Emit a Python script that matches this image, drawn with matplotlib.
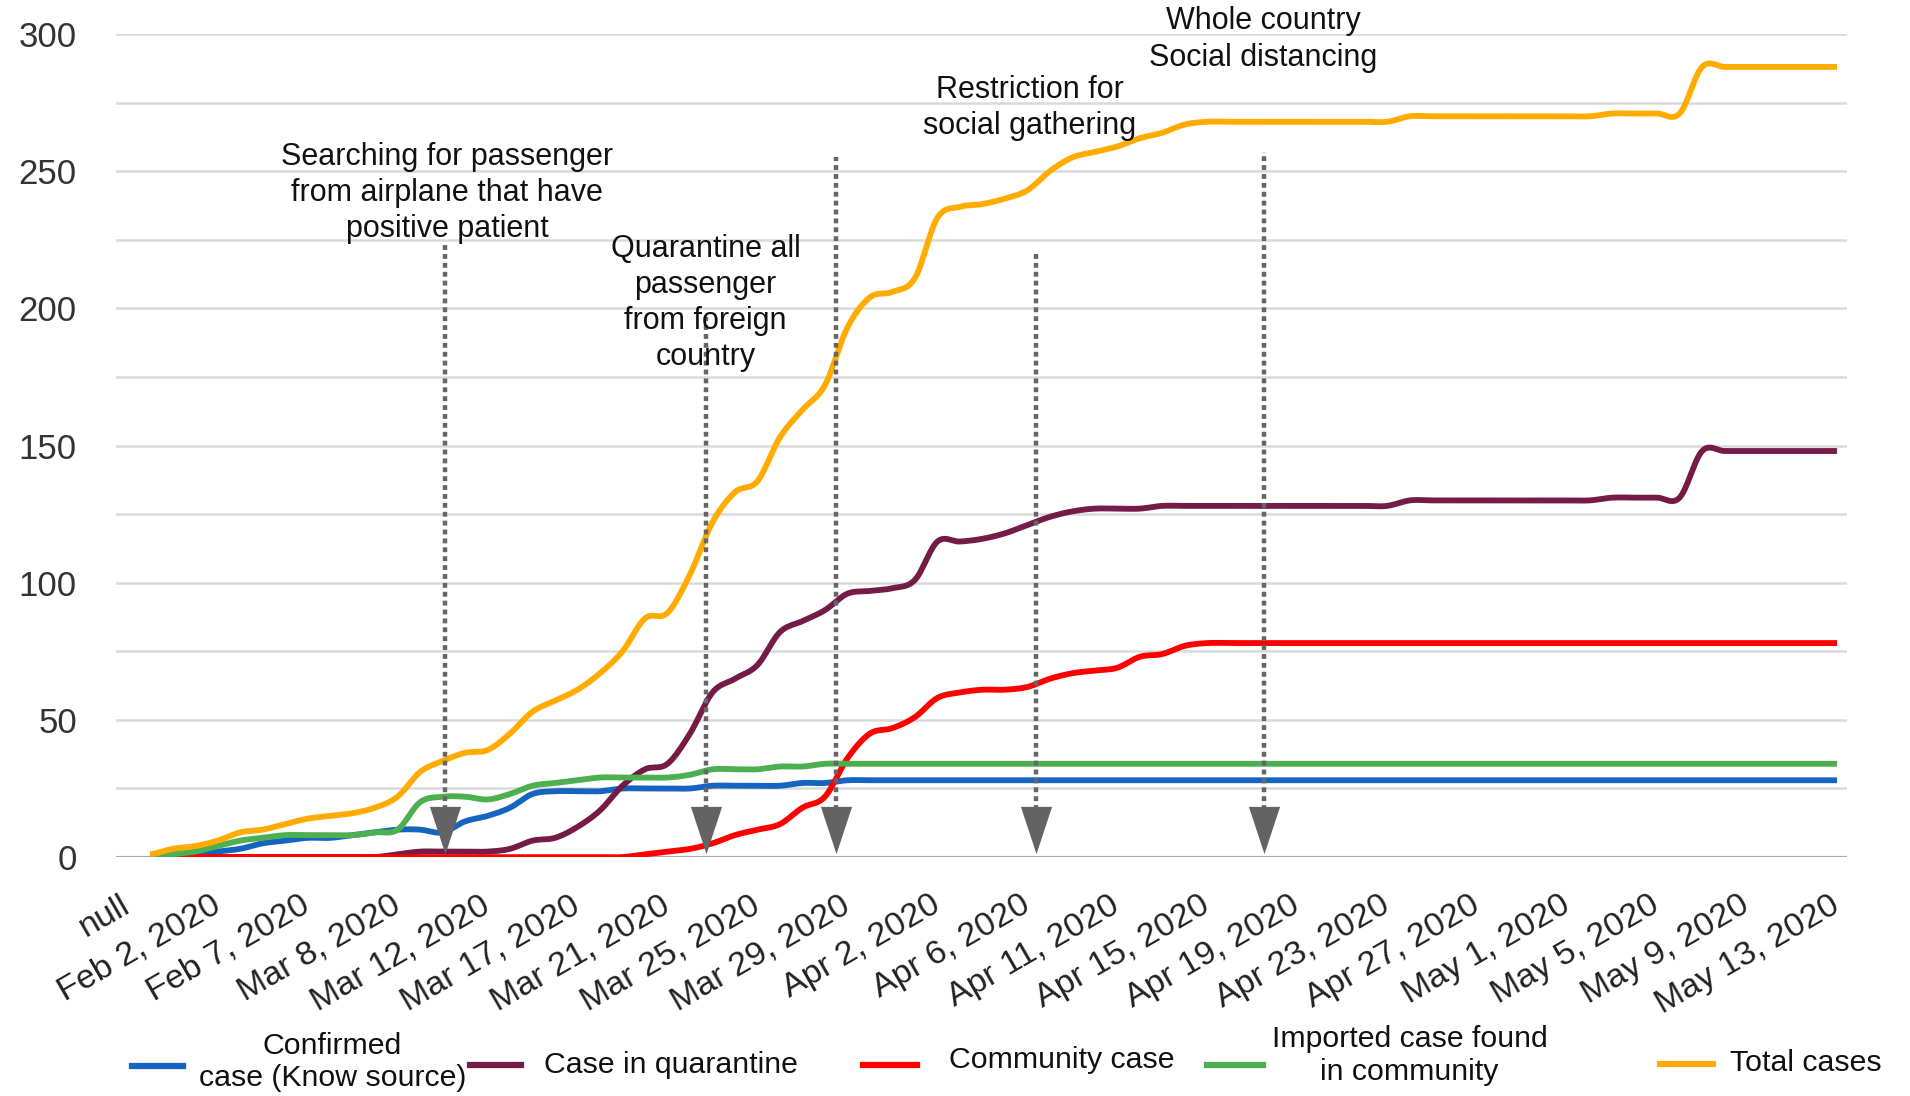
import numpy as np
import matplotlib
matplotlib.use("Agg")
import matplotlib.pyplot as plt
from matplotlib.lines import Line2D

plt.rcParams["font.family"] = ["Liberation Sans", "DejaVu Sans"]

# category axis: "null" is slot 0, data rows are slots 1..76, a label every 4 rows
tick_labels = ["null", "Feb 2, 2020", "Feb 7, 2020", "Mar 8, 2020", "Mar 12, 2020",
               "Mar 17, 2020", "Mar 21, 2020", "Mar 25, 2020", "Mar 29, 2020",
               "Apr 2, 2020", "Apr 6, 2020", "Apr 11, 2020", "Apr 15, 2020",
               "Apr 19, 2020", "Apr 23, 2020", "Apr 27, 2020", "May 1, 2020",
               "May 5, 2020", "May 9, 2020", "May 13, 2020"]
rows = np.arange(1, 77)

confirmed_known = [0, 1, 1, 2, 3, 5, 6, 7, 7, 8, 9, 10, 10, 9, 13, 15, 18, 23, 24, 24,
                   24, 25, 25, 25, 25, 26, 26, 26, 26, 27, 27, 28, 28, 28, 28, 28, 28, 28, 28, 28,
                   28, 28, 28, 28, 28, 28, 28, 28, 28, 28, 28, 28, 28, 28, 28, 28, 28, 28, 28, 28,
                   28, 28, 28, 28, 28, 28, 28, 28, 28, 28, 28, 28, 28, 28, 28, 28]
quarantine = [0, 0, 0, 0, 0, 0, 0, 0, 0, 0, 0, 1, 2, 2, 2, 2, 3, 6, 7, 11,
              17, 26, 32, 34, 45, 60, 65, 70, 82, 86, 90, 96, 97, 98, 101, 115, 115, 116, 118, 121,
              124, 126, 127, 127, 127, 128, 128, 128, 128, 128, 128, 128, 128, 128, 128, 128, 130, 130, 130, 130,
              130, 130, 130, 130, 130, 131, 131, 131, 131, 148, 148, 148, 148, 148, 148, 148]
community = [0, 0, 0, 0, 0, 0, 0, 0, 0, 0, 0, 0, 0, 0, 0, 0, 0, 0, 0, 0,
             0, 0, 1, 2, 3, 5, 8, 10, 12, 18, 22, 36, 45, 47, 51, 58, 60, 61, 61, 62,
             65, 67, 68, 69, 73, 74, 77, 78, 78, 78, 78, 78, 78, 78, 78, 78, 78, 78, 78, 78,
             78, 78, 78, 78, 78, 78, 78, 78, 78, 78, 78, 78, 78, 78, 78, 78]
imported = [0, 1, 2, 4, 6, 7, 8, 8, 8, 8, 9, 10, 20, 22, 22, 21, 23, 26, 27, 28,
            29, 29, 29, 29, 30, 32, 32, 32, 33, 33, 34, 34, 34, 34, 34, 34, 34, 34, 34, 34,
            34, 34, 34, 34, 34, 34, 34, 34, 34, 34, 34, 34, 34, 34, 34, 34, 34, 34, 34, 34,
            34, 34, 34, 34, 34, 34, 34, 34, 34, 34, 34, 34, 34, 34, 34, 34]
total = [1, 3, 4, 6, 9, 10, 12, 14, 15, 16, 18, 22, 31, 35, 38, 39, 45, 53, 57, 61,
         67, 75, 87, 89, 103, 122, 133, 137, 153, 163, 172, 193, 204, 206, 211, 233, 237, 238, 240, 243,
         250, 255, 257, 259, 262, 264, 267, 268, 268, 268, 268, 268, 268, 268, 268, 268, 270, 270, 270, 270,
         270, 270, 270, 270, 270, 271, 271, 271, 271, 288, 288, 288, 288, 288, 288, 288]

series_names = ["Confirmed\ncase (Know source)", "Case in quarantine", "Community case",
                "Imported case found\nin community", "Total cases"]
series_colors = ["#1565c0", "#741b47", "#ff0000", "#4caf50", "#ffab00"]

# policy events drawn as dotted arrows
event_text = ["Searching for passenger\nfrom airplane that have\npositive patient",
              "Quarantine all\npassenger\nfrom foreign\ncountry",
              "Restriction for\nsocial gathering",
              "Whole country\nSocial distancing"]
event_text_x = [14.2, 25.7, 40.1, 50.5]
event_text_y = [242, 202, 273, 298]
arrow_x = [14.1, 25.7, 31.5, 40.4, 50.5]
arrow_top = [224, 197, 255, 221, 257]


def smooth(x, y, n=12):
    # Catmull-Rom curve through the points, like the "smooth" option of the original chart
    x = np.asarray(x, float)
    y = np.asarray(y, float)
    p = np.concatenate([[y[0]], y, [y[-1]]])
    t = np.linspace(0, 1, n, endpoint=False)
    xs, ys = [], []
    for i in range(len(y) - 1):
        p0, p1, p2, p3 = p[i], p[i + 1], p[i + 2], p[i + 3]
        ys.append(0.5 * (2 * p1 + (-p0 + p2) * t + (2 * p0 - 5 * p1 + 4 * p2 - p3) * t ** 2
                         + (-p0 + 3 * p1 - 3 * p2 + p3) * t ** 3))
        xs.append(x[i] + (x[i + 1] - x[i]) * t)
    xs.append([x[-1]])
    ys.append([y[-1]])
    return np.concatenate(xs), np.concatenate(ys)


fig = plt.figure(figsize=(19.1, 10.96), dpi=100)
ax = fig.add_axes([0.0606, 0.218, 0.9064, 0.751])

ax.set_ylim(0, 300)
ax.set_xlim(-0.53, 76.44)
ax.set_yticks(range(0, 301, 50))
ax.set_yticks(range(0, 301, 25), minor=True)
ax.grid(which="both", axis="y", color="#dadada", lw=1.8, zorder=0)
ax.axhline(0, color="#1a1a1a", lw=2.2, zorder=1)
for s in ax.spines.values():
    s.set_visible(False)

for vals, c in zip([confirmed_known, quarantine, community, imported, total], series_colors):
    sx, sy = smooth(rows, vals)
    ax.plot(sx, sy, color=c, lw=4.2, solid_capstyle="butt", zorder=3)

tri = [(-0.33, 0.5), (0.33, 0.5), (0, -0.5)]
for x, top in zip(arrow_x, arrow_top):
    ax.plot([x, x], [17, top], color="#666666", lw=3.2, linestyle=(0, (1.1, 0.9)), zorder=4)
    ax.plot(x, 10, marker=tri, ms=34, color="#636363", mew=0, zorder=5)

for txt, x, y in zip(event_text, event_text_x, event_text_y):
    ax.text(x, y, txt, ha="center", va="center", fontsize=22, linespacing=1.27,
            color="#111111", clip_on=False, zorder=6)

ax.set_xticks(np.arange(0, 77, 4))
ax.set_xticklabels(tick_labels, rotation=30, ha="right", va="center",
                   rotation_mode="anchor", fontsize=24.5, color="#222222")
ax.tick_params(axis="x", length=0, pad=33)
ax.tick_params(axis="y", which="both", length=0, pad=28, labelsize=25, labelcolor="#333333")

# legend along the bottom, laid out like the original (uneven column gaps)
leg_handle_x = [(0.069, 0.096), (0.246, 0.273), (0.452, 0.480), (0.632, 0.661), (0.869, 0.897)]
leg_handle_y = [0.027, 0.028, 0.028, 0.028, 0.029]
leg_text_x = [0.174, 0.285, 0.497, 0.738, 0.906]
leg_text_y = [0.031, 0.028, 0.033, 0.037, 0.030]
leg_text_ha = ["center", "left", "left", "center", "left"]
for c, name, (x0, x1), hy, tx, ty, ha in zip(series_colors, series_names, leg_handle_x,
                                             leg_handle_y, leg_text_x, leg_text_y, leg_text_ha):
    fig.add_artist(Line2D([x0, x1], [hy, hy], color=c, lw=4.5, transform=fig.transFigure))
    fig.text(tx, ty, name, ha=ha, va="center", fontsize=21.8, linespacing=1.2,
             multialignment="center", color="#111111")

fig.savefig("out.png", dpi=100)
